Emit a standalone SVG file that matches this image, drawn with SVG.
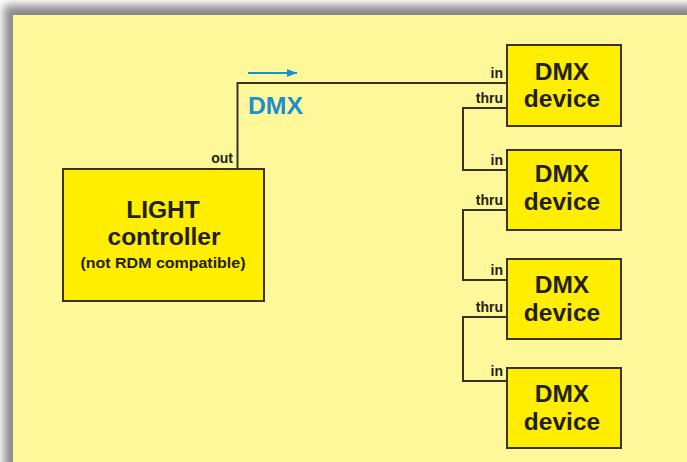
<svg xmlns="http://www.w3.org/2000/svg" width="687" height="462" viewBox="0 0 687 462">
<style>
.box{fill:#ffee00;stroke:#3b3322;stroke-width:2}
.wire{fill:none;stroke:#3b3322;stroke-width:2}
.big{font-family:"Liberation Sans",Arial,sans-serif;font-weight:bold;font-size:24.5px;fill:#231f14;text-anchor:middle}
.sub{font-family:"Liberation Sans",Arial,sans-serif;font-weight:bold;font-size:15.5px;fill:#231f14;text-anchor:middle}
.port{font-family:"Liberation Sans",Arial,sans-serif;font-weight:bold;font-size:14px;fill:#231f14;text-anchor:end}
.blue{font-family:"Liberation Sans",Arial,sans-serif;font-weight:bold;font-size:23px;fill:#1b8fd2}
</style>
<defs>
<filter id="sh" filterUnits="userSpaceOnUse" x="-50" y="-50" width="800" height="600">
<feGaussianBlur stdDeviation="5"/>
</filter>
<marker id="ah" viewBox="0 0 10 8" refX="10" refY="4" markerWidth="10" markerHeight="8" markerUnits="userSpaceOnUse" orient="auto">
<path d="M0,0 L10,4 L0,8 Z" fill="#1b8fd2"/>
</marker>
</defs>
<rect x="0" y="0" width="687" height="462" fill="#ffffff"/>
<rect x="4" y="5" width="720" height="500" fill="#8a8a8a" filter="url(#sh)"/>
<rect x="13" y="15" width="700" height="470" fill="#fff89a"/>

<g id="connectors">
<path class="wire" d="M237.5,169 V83 H507"/>
<path class="wire" d="M507,108 H463 V170 H507"/>
<path class="wire" d="M507,210 H463 V280 H507"/>
<path class="wire" d="M507,317 H463 V381 H507"/>
<line x1="248" y1="73" x2="297" y2="73" stroke="#1b8fd2" stroke-width="2" marker-end="url(#ah)"/>
<text class="blue" x="248" y="114" textLength="55" lengthAdjust="spacingAndGlyphs">DMX</text>
</g>

<g id="controller">
<rect class="box" x="63" y="169" width="201" height="132"/>
<text class="big" x="163" y="218">LIGHT</text>
<text class="big" x="164" y="245">controller</text>
<text class="sub" x="163" y="268" textLength="165" lengthAdjust="spacingAndGlyphs">(not RDM compatible)</text>
<text class="port" x="233" y="163">out</text>
</g>

<g id="device1">
<rect class="box" x="507" y="45" width="114" height="81"/>
<text class="big" x="562" y="80">DMX</text>
<text class="big" x="562" y="107">device</text>
<text class="port" x="503" y="78">in</text>
<text class="port" x="503" y="103">thru</text>
</g>

<g id="device2">
<rect class="box" x="507" y="150" width="114" height="80"/>
<text class="big" x="562" y="182">DMX</text>
<text class="big" x="562" y="210">device</text>
<text class="port" x="503" y="165">in</text>
<text class="port" x="503" y="205">thru</text>
</g>

<g id="device3">
<rect class="box" x="507" y="259" width="114" height="80"/>
<text class="big" x="562" y="293">DMX</text>
<text class="big" x="562" y="321">device</text>
<text class="port" x="503" y="275">in</text>
<text class="port" x="503" y="312">thru</text>
</g>

<g id="device4">
<rect class="box" x="507" y="368" width="114" height="80"/>
<text class="big" x="562" y="402">DMX</text>
<text class="big" x="562" y="430">device</text>
<text class="port" x="503" y="376">in</text>
</g>
</svg>
